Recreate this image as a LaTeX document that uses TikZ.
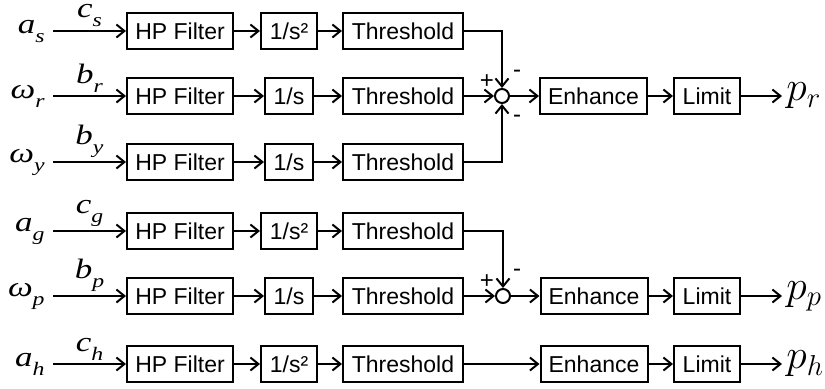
\documentclass[tikz,border=0pt]{standalone}
\usepackage{fontspec}
\setmainfont{Liberation Sans}
\newfontfamily\symfont{Liberation Serif}
\usetikzlibrary{arrows.meta}
% italic signal name with a lowered index
\newcommand{\sigsym}[2]{\scalebox{1.25}[1]{\symfont\itshape\fontsize{14}{14}\selectfont #1\raisebox{-4.5pt}{\fontsize{9.5}{10}\selectfont #2}}}
\begin{document}
\begin{tikzpicture}[x=0.5pt,y=-0.5pt,
	block/.style={draw, line width=1pt, minimum height=18pt, inner sep=0pt, font=\fontsize{11.5}{13}\selectfont},
	sumnode/.style={draw, circle, line width=1pt, minimum size=7pt, inner sep=0pt},
	sig/.style={line width=1pt, -{Straight Barb[length=4pt,width=6.5pt]}},
	insig/.style={anchor=east, inner sep=4pt},
	outsig/.style={anchor=west, font=\huge, inner sep=2pt},
	gain/.style={above, inner sep=1.5pt},
	sign/.style={font=\large, inner sep=0pt},
	]
	\useasboundingbox (0,0) rectangle (825,388);
	
	% roll
	\node [insig] (as) at (53,31) {\sigsym{a}{s}};
	\node [block, minimum width=53pt] (hpA) at (180,31) {HP Filter};
	\node [block, minimum width=28pt] (intA) at (289,31) {1/s²};
	\node [block, minimum width=60pt] (thA) at (403,31) {Threshold};
	
	\node [insig] (wr) at (53,96) {\sigsym{ω}{r}};
	\node [block, minimum width=53pt] (hpB) at (180,96) {HP Filter};
	\node [block, minimum width=24pt] (intB) at (289,96) {1/s};
	\node [block, minimum width=60pt] (thB) at (403,96) {Threshold};
	
	\node [insig] (wy) at (53,162) {\sigsym{ω}{y}};
	\node [block, minimum width=53pt] (hpC) at (180,162) {HP Filter};
	\node [block, minimum width=24pt] (intC) at (289,162) {1/s};
	\node [block, minimum width=60pt] (thC) at (403,162) {Threshold};
	
	\node [sumnode] (sumR) at (502,96) {};
	\node [block, minimum width=53.5pt] (enR) at (593.5,96) {Enhance};
	\node [block, minimum width=33pt] (liR) at (707,96) {Limit};
	\node [outsig] (pr) at (782,96) {$p_r$};
	
	\draw [sig] (as) -- node [gain] {\sigsym{c}{s}} (hpA);
	\draw [sig] (hpA) -- (intA);
	\draw [sig] (intA) -- (thA);
	\draw [sig] (wr) -- node [gain] {\sigsym{b}{r}} (hpB);
	\draw [sig] (hpB) -- (intB);
	\draw [sig] (intB) -- (thB);
	\draw [sig] (wy) -- node [gain] {\sigsym{b}{y}} (hpC);
	\draw [sig] (hpC) -- (intC);
	\draw [sig] (intC) -- (thC);
	
	\draw [sig] (thA) -| (sumR);
	\draw [sig] (thB) -- (sumR);
	\draw [sig] (thC) -| (sumR);
	\draw [sig] (sumR) -- (enR);
	\draw [sig] (enR) -- (liR);
	\draw [sig] (liR) -- (pr);
	
	\node [sign] (plusR) at (487,82) {+};
	\node [sign] (minRa) at (517,74) {-};
	\node [sign] (minRb) at (517,119) {-};
	
	% pitch
	\node [insig] (ag) at (53,231) {\sigsym{a}{g}};
	\node [block, minimum width=53pt] (hpD) at (180,231) {HP Filter};
	\node [block, minimum width=28pt] (intD) at (289,231) {1/s²};
	\node [block, minimum width=60pt] (thD) at (403,231) {Threshold};
	
	\node [insig] (wp) at (53,296) {\sigsym{ω}{p}};
	\node [block, minimum width=53pt] (hpE) at (180,296) {HP Filter};
	\node [block, minimum width=24pt] (intE) at (289,296) {1/s};
	\node [block, minimum width=60pt] (thE) at (403,296) {Threshold};
	
	\node [sumnode] (sumP) at (503,296) {};
	\node [block, minimum width=53.5pt] (enP) at (594,296) {Enhance};
	\node [block, minimum width=33pt] (liP) at (707,296) {Limit};
	\node [outsig] (pp) at (782,296) {$p_p$};
	
	\draw [sig] (ag) -- node [gain] {\sigsym{c}{g}} (hpD);
	\draw [sig] (hpD) -- (intD);
	\draw [sig] (intD) -- (thD);
	\draw [sig] (wp) -- node [gain] {\sigsym{b}{p}} (hpE);
	\draw [sig] (hpE) -- (intE);
	\draw [sig] (intE) -- (thE);
	
	\draw [sig] (thD) -| (sumP);
	\draw [sig] (thE) -- (sumP);
	\draw [sig] (sumP) -- (enP);
	\draw [sig] (enP) -- (liP);
	\draw [sig] (liP) -- (pp);
	
	\node [sign] (plusP) at (487,282) {+};
	\node [sign] (minP) at (517,273) {-};
	
	% heave
	\node [insig] (ah) at (53,364) {\sigsym{a}{h}};
	\node [block, minimum width=53pt] (hpF) at (180,364) {HP Filter};
	\node [block, minimum width=28pt] (intF) at (289,364) {1/s²};
	\node [block, minimum width=60pt] (thF) at (403,364) {Threshold};
	\node [block, minimum width=53.5pt] (enH) at (594,364) {Enhance};
	\node [block, minimum width=33pt] (liH) at (707,364) {Limit};
	\node [outsig] (ph) at (782,364) {$p_h$};
	
	\draw [sig] (ah) -- node [gain] {\sigsym{c}{h}} (hpF);
	\draw [sig] (hpF) -- (intF);
	\draw [sig] (intF) -- (thF);
	\draw [sig] (thF) -- (enH);
	\draw [sig] (enH) -- (liH);
	\draw [sig] (liH) -- (ph);
\end{tikzpicture}
\end{document}
